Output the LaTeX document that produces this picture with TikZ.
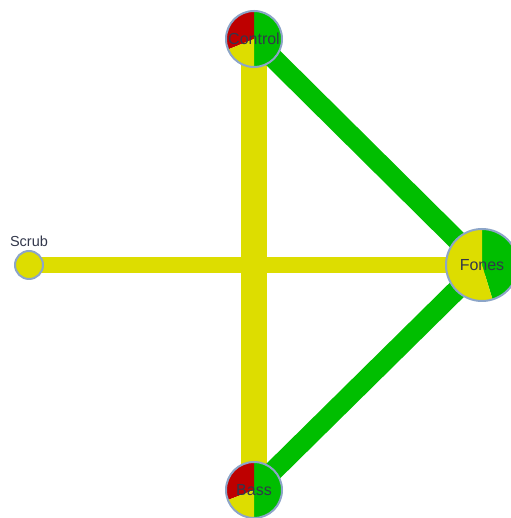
\documentclass[tikz,border=0pt]{standalone}
\usepackage{fontspec}
\setmainfont{Liberation Sans}
\definecolor{yel}{RGB}{221,221,0}
\definecolor{grn}{RGB}{0,190,0}
\definecolor{rd}{RGB}{190,0,0}
\definecolor{rim}{RGB}{140,165,200}
\definecolor{txt}{RGB}{50,55,75}
\pgfdeclarelayer{bg}
\pgfsetlayers{bg,main}
\tikzset{
  nd/.style={circle, draw=rim, line width=2pt, inner sep=0pt, text=txt,
    font=\fontsize{16}{19}\selectfont},
  lnk/.style={line cap=butt},
}
\newcommand{\pieslice}[5]{% center, radius, start, end, color
  \fill[#5] (#1) -- ++(#3:#2) arc[start angle=#3, end angle=#4, radius=#2] -- cycle;}
\begin{document}
\begin{tikzpicture}[x=1pt,y=1pt]
\useasboundingbox (0,0) rectangle (510,518);
% positions
\coordinate (pc) at (254,479);
\coordinate (pb) at (254,28);
\coordinate (pf) at (482,253);
\coordinate (ps) at (29,253);
% pies
\pieslice{pc}{28}{-90}{90}{grn}
\pieslice{pc}{28}{90}{202}{rd}
\pieslice{pc}{28}{202}{270}{yel}
\pieslice{pb}{28}{-90}{90}{grn}
\pieslice{pb}{28}{90}{201}{rd}
\pieslice{pb}{28}{201}{270}{yel}
\pieslice{pf}{36}{-73}{90}{grn}
\pieslice{pf}{36}{90}{287}{yel}
\fill[yel] (ps) circle[radius=14];
% nodes
\node[nd, minimum size=56pt] (control) at (pc) {Control};
\node[nd, minimum size=56pt] (bass) at (pb) {Bass};
\node[nd, minimum size=72pt] (fones) at (pf) {Fones};
\node[nd, minimum size=28pt] (scrub) at (ps) {};
\node[text=txt, font=\fontsize{14.5}{17}\selectfont] (scrublbl) at (29,277) {Scrub};
% links
\begin{pgfonlayer}{bg}
\draw[lnk, yel, line width=26pt] (control.center) -- (bass.center);
\draw[lnk, yel, line width=16pt] (scrub.center) -- (fones.center);
\draw[lnk, grn, line width=20pt] (control.center) -- (fones.center);
\draw[lnk, grn, line width=20pt] (bass.center) -- (fones.center);
\end{pgfonlayer}
\end{tikzpicture}
\end{document}
